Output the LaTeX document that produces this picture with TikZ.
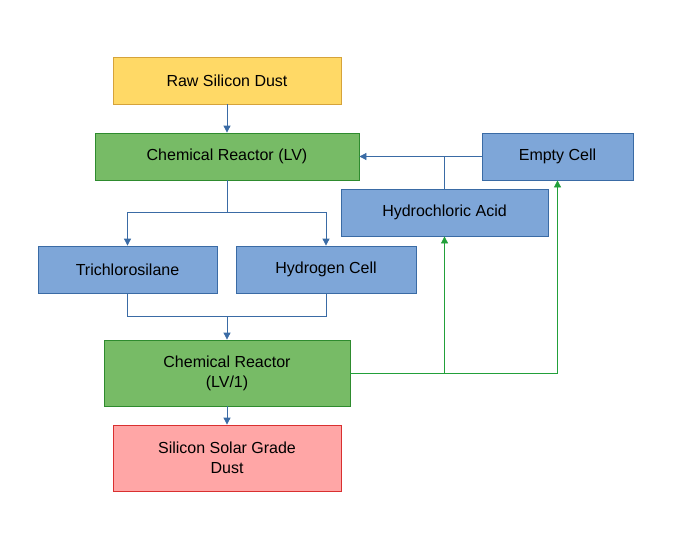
\documentclass[tikz,border=0pt]{standalone}
\usepackage{fontspec}
\setmainfont{Liberation Sans}
\usetikzlibrary{arrows.meta}
\definecolor{yf}{HTML}{FFD966}\definecolor{yd}{HTML}{D6A33A}
\definecolor{gf}{HTML}{77BB66}\definecolor{gd}{HTML}{2E8B2E}
\definecolor{bf}{HTML}{7EA6D8}\definecolor{bd}{HTML}{3A6BA5}
\definecolor{rf}{HTML}{FFA6A6}\definecolor{rd}{HTML}{D93030}
\definecolor{ln}{HTML}{3A6BA5}\definecolor{gl}{HTML}{22A03A}
\begin{document}
\begin{tikzpicture}[x=1pt,y=-1pt,
  box/.style={draw,line width=0.8pt,inner sep=0pt,align=center,font=\fontsize{16}{20}\selectfont},
  bl/.style={draw=ln,line width=0.8pt},
  gr/.style={draw=gl,line width=0.8pt},
  ar/.style={-{Triangle[length=7pt,width=7pt]}}]
\useasboundingbox (0,0) rectangle (692,536);
\node[box,fill=yf,draw=yd,minimum width=228,minimum height=47] (raw) at (227,80.5) {Raw Silicon Dust};
\node[box,fill=gf,draw=gd,minimum width=264,minimum height=47] (c1) at (227,156.5) {Chemical Reactor (LV)};
\node[box,fill=bf,draw=bd,minimum width=151,minimum height=47] (ec) at (557.5,156.5) {Empty Cell};
\node[box,fill=bf,draw=bd,minimum width=207,minimum height=47] (hcl) at (444.5,212.5) {Hydrochloric Acid};
\node[box,fill=bf,draw=bd,minimum width=179,minimum height=47] (tri) at (127.5,269.5) {Trichlorosilane};
\node[box,fill=bf,draw=bd,minimum width=180,minimum height=47] (hyd) at (326,269.5) {Hydrogen Cell};
\node[box,fill=gf,draw=gd,minimum width=246,minimum height=66] (c2) at (227,373) {Chemical Reactor\\(LV/1)};
\node[box,fill=rf,draw=rd,minimum width=228,minimum height=66] (si) at (227,458) {Silicon Solar Grade\\Dust};
\coordinate (j1) at (227,212);
\coordinate (j2) at (227,316);
\coordinate (j3) at (444.5,373);
\draw[bl,ar] (raw) -- (c1);
\draw[bl] (c1.south) -- (j1);
\draw[bl,ar] (j1) -| (tri.north);
\draw[bl,ar] (j1) -| (hyd.north);
\draw[bl] (tri.south) |- (j2);
\draw[bl] (hyd.south) |- (j2);
\draw[bl,ar] (j2) -- (c2.north);
\draw[bl,ar] (c2) -- (si);
\draw[bl,ar] (ec.west) -- (c1.east);
\draw[bl] (hcl.north) -- (hcl.north|-ec.west);
\draw[gr,ar] (c2.east) -| (ec.south);
\draw[gr,ar] (j3) -- (hcl.south);
\end{tikzpicture}
\end{document}
